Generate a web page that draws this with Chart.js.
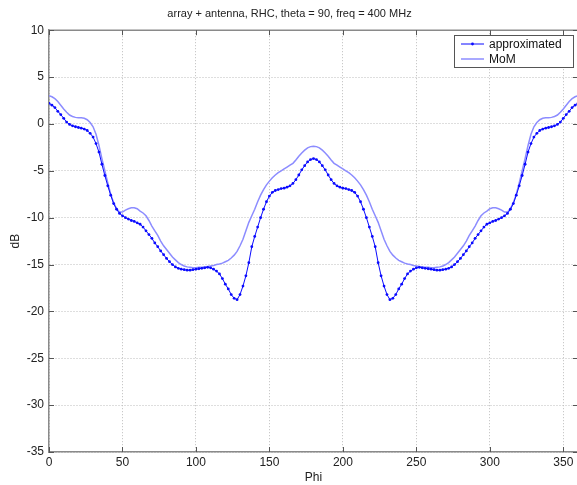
<!DOCTYPE html>
<html>
<head>
<meta charset="utf-8">
<script src="https://cdn.jsdelivr.net/npm/chart.js@4.4.0/dist/chart.umd.min.js"></script>
<style>
  html, body { margin: 0; padding: 0; background: #fff; overflow: hidden; }
  #wrap { width: 582px; height: 485px; }
</style>
</head>
<body>
<div id="wrap"><canvas id="pattern-chart"></canvas></div>
<script>
// Azimuth angle (degrees), sampled every 2 degrees
const phi = [];
for (let p = 0; p <= 360; p += 2) phi.push(p);

// Approximated pattern (dB)
const approximated = [
  2.2, 2.0, 1.75, 1.35, 1.0, 0.6, 0.2, -0.05, -0.2, -0.3,
  -0.38, -0.45, -0.55, -0.7, -1.0, -1.4, -2.1, -3.0, -4.3, -5.5,
  -6.6, -7.6, -8.5, -9.1, -9.55, -9.8, -10.0, -10.15, -10.3, -10.4,
  -10.55, -10.7, -11.0, -11.4, -11.8, -12.2, -12.7, -13.1, -13.55, -13.95,
  -14.35, -14.7, -15.0, -15.25, -15.4, -15.5, -15.55, -15.6, -15.6, -15.55,
  -15.5, -15.45, -15.4, -15.35, -15.3, -15.35, -15.5, -15.7, -16.0, -16.5,
  -17.1, -17.6, -18.2, -18.6, -18.75, -18.2, -17.3, -16.2, -14.8, -13.1,
  -12.0, -11.0, -10.0, -9.1, -8.3, -7.7, -7.3, -7.1, -7.0, -6.9,
  -6.85, -6.75, -6.6, -6.35, -5.95, -5.45, -4.9, -4.45, -4.05, -3.8,
  -3.7,
  -3.8, -4.05, -4.45, -4.9, -5.45, -5.95, -6.35, -6.6, -6.75, -6.85,
  -6.9, -7.0, -7.1, -7.3, -7.7, -8.3, -9.1, -10.0, -11.0, -12.0,
  -13.1, -14.8, -16.2, -17.3, -18.2, -18.75, -18.6, -18.2, -17.6, -17.1,
  -16.5, -16.0, -15.7, -15.5, -15.35, -15.3, -15.35, -15.4, -15.45, -15.5,
  -15.55, -15.6, -15.6, -15.55, -15.5, -15.4, -15.25, -15.0, -14.7, -14.35,
  -13.95, -13.55, -13.1, -12.7, -12.2, -11.8, -11.4, -11.0, -10.7, -10.55,
  -10.4, -10.3, -10.15, -10.0, -9.8, -9.55, -9.1, -8.5, -7.6, -6.6,
  -5.5, -4.3, -3.0, -2.1, -1.4, -1.0, -0.7, -0.55, -0.45, -0.38,
  -0.3, -0.2, -0.05, 0.2, 0.6, 1.0, 1.35, 1.75, 2.0, 2.2
];

// Method of Moments reference (dB)
const mom = [
  3.0, 2.9, 2.7, 2.4, 2.0, 1.6, 1.25, 0.95, 0.8, 0.7,
  0.65, 0.65, 0.6, 0.45, 0.15, -0.3, -1.1, -2.3, -3.7, -5.0,
  -6.3, -7.5, -8.4, -9.05, -9.4, -9.4, -9.2, -9.05, -8.95, -8.95,
  -9.05, -9.3, -9.5, -9.8, -10.3, -10.9, -11.4, -11.9, -12.5, -13.0,
  -13.4, -13.8, -14.2, -14.5, -14.8, -15.0, -15.15, -15.25, -15.3, -15.35,
  -15.35, -15.3, -15.3, -15.25, -15.2, -15.15, -15.1, -15.0, -14.95, -14.85,
  -14.7, -14.55, -14.3, -14.0, -13.6, -13.0, -12.3, -11.4, -10.5, -9.8,
  -9.1, -8.3, -7.6, -7.0, -6.5, -6.1, -5.75, -5.45, -5.2, -5.0,
  -4.8, -4.6, -4.4, -4.2, -3.85, -3.45, -3.1, -2.8, -2.55, -2.42,
  -2.38,
  -2.42, -2.55, -2.8, -3.1, -3.45, -3.85, -4.2, -4.4, -4.6, -4.8,
  -5.0, -5.2, -5.45, -5.75, -6.1, -6.5, -7.0, -7.6, -8.3, -9.1,
  -9.8, -10.5, -11.4, -12.3, -13.0, -13.6, -14.0, -14.3, -14.55, -14.7,
  -14.85, -14.95, -15.0, -15.1, -15.15, -15.2, -15.25, -15.3, -15.3, -15.35,
  -15.35, -15.3, -15.25, -15.15, -15.0, -14.8, -14.5, -14.2, -13.8, -13.4,
  -13.0, -12.5, -11.9, -11.4, -10.9, -10.3, -9.8, -9.5, -9.3, -9.05,
  -8.95, -8.95, -9.05, -9.2, -9.4, -9.4, -9.05, -8.4, -7.5, -6.3,
  -5.0, -3.7, -2.3, -1.1, -0.3, 0.15, 0.45, 0.6, 0.65, 0.65,
  0.7, 0.8, 0.95, 1.25, 1.6, 2.0, 2.4, 2.7, 2.9, 3.0
];

const xTicks = [0, 50, 100, 150, 200, 250, 300, 350];
const seriesNames = ['approximated', 'MoM'];

const FONT = 'Liberation Sans, Arial, sans-serif';
const APPROX_COLOR = '#0a0aff';
const MOM_COLOR = '#8c8cff';

// Box around the plot, inward tick marks and the boxed legend
const framePlugin = {
  id: 'frame',
  afterDraw(chart) {
    const ctx = chart.ctx;
    const a = chart.chartArea;
    const xs = chart.scales.x, ys = chart.scales.y;
    ctx.save();
    ctx.strokeStyle = '#8a8a8a';
    ctx.lineWidth = 1.5;
    ctx.beginPath();
    ctx.moveTo(a.left, a.top);
    ctx.lineTo(a.right, a.top);
    ctx.lineTo(a.right, a.bottom);
    ctx.stroke();

    ctx.strokeStyle = '#555';
    ctx.lineWidth = 1;
    ctx.beginPath();
    xTicks.forEach(v => {
      const px = Math.round(xs.getPixelForValue(v)) + 0.5;
      ctx.moveTo(px, a.bottom); ctx.lineTo(px, a.bottom - 5);
      ctx.moveTo(px, a.top); ctx.lineTo(px, a.top + 5);
    });
    ys.ticks.forEach(t => {
      const py = Math.round(ys.getPixelForValue(t.value)) + 0.5;
      ctx.moveTo(a.left, py); ctx.lineTo(a.left + 5, py);
      ctx.moveTo(a.right, py); ctx.lineTo(a.right - 5, py);
    });
    ctx.stroke();

    // legend
    const lx = 454, ly = 35, lw = 119, lh = 32;
    ctx.fillStyle = '#fff';
    ctx.fillRect(lx, ly, lw, lh);
    ctx.strokeStyle = '#555';
    ctx.strokeRect(lx + 0.5, ly + 0.5, lw, lh);
    ctx.font = '12px ' + FONT;
    ctx.textBaseline = 'middle';
    chart.data.datasets.forEach((ds, i) => {
      const y = ly + 9 + i * 15;
      ctx.strokeStyle = ds.borderColor;
      ctx.lineWidth = ds.borderWidth;
      ctx.beginPath();
      ctx.moveTo(lx + 7, y); ctx.lineTo(lx + 30, y);
      ctx.stroke();
      if (ds.pointRadius > 0) {
        ctx.fillStyle = ds.borderColor;
        ctx.beginPath();
        ctx.arc(lx + 18.5, y, ds.pointRadius, 0, Math.PI * 2);
        ctx.fill();
      }
      ctx.fillStyle = '#111';
      ctx.fillText(ds.label, lx + 35, y + 1);
    });
    ctx.restore();
  }
};

function initChart() {
  const ctx = document.getElementById('pattern-chart').getContext('2d');
  new Chart(ctx, {
    type: 'line',
    data: {
      datasets: [{
        label: seriesNames[0],
        data: phi.map((p, i) => ({ x: p, y: approximated[i] })),
        borderColor: APPROX_COLOR,
        backgroundColor: APPROX_COLOR,
        borderWidth: 1,
        pointRadius: 1.4,
        pointBorderWidth: 0,
        tension: 0,
        order: 1
      }, {
        label: seriesNames[1],
        data: phi.map((p, i) => ({ x: p, y: mom[i] })),
        borderColor: MOM_COLOR,
        borderWidth: 1.5,
        pointRadius: 0,
        tension: 0,
        order: 2
      }]
    },
    options: {
      responsive: true,
      maintainAspectRatio: false,
      devicePixelRatio: 1,
      animation: false,
      layout: { padding: { left: 0, right: 3, top: 0, bottom: 0 } },
      plugins: {
        legend: { display: false },
        tooltip: { enabled: false },
        title: {
          display: true,
          text: 'array + antenna, RHC, theta = 90, freq = 400 MHz',
          color: '#222',
          font: { family: FONT, size: 11, weight: 'normal' },
          padding: { top: 7, bottom: 10 }
        }
      },
      scales: {
        x: {
          type: 'linear',
          min: 0,
          max: 360,
          afterBuildTicks: scale => {
            scale.ticks = xTicks.map(v => ({ value: v }));
          },
          afterFit: scale => { scale.height = 33; },
          ticks: { color: '#222', font: { family: FONT, size: 12 }, padding: 3, maxRotation: 0 },
          grid: { color: '#bdbdbd', drawTicks: false },
          border: { color: '#8a8a8a', width: 1.5, dash: [1, 2] },
          title: { display: true, text: 'Phi', color: '#222', font: { family: FONT, size: 12 }, padding: { top: 0, bottom: 0 } }
        },
        y: {
          min: -35,
          max: 10,
          afterFit: scale => { scale.width = 49; },
          ticks: { stepSize: 5, color: '#222', font: { family: FONT, size: 12 }, padding: 5 },
          grid: { color: '#bdbdbd', drawTicks: false },
          border: { color: '#8a8a8a', width: 1.5, dash: [1, 2] },
          title: { display: true, text: 'dB', color: '#222', font: { family: FONT, size: 12 }, padding: { top: 8, bottom: 0 } }
        }
      }
    },
    plugins: [framePlugin]
  });
}

window.onload = initChart;
</script>
</body>
</html>
